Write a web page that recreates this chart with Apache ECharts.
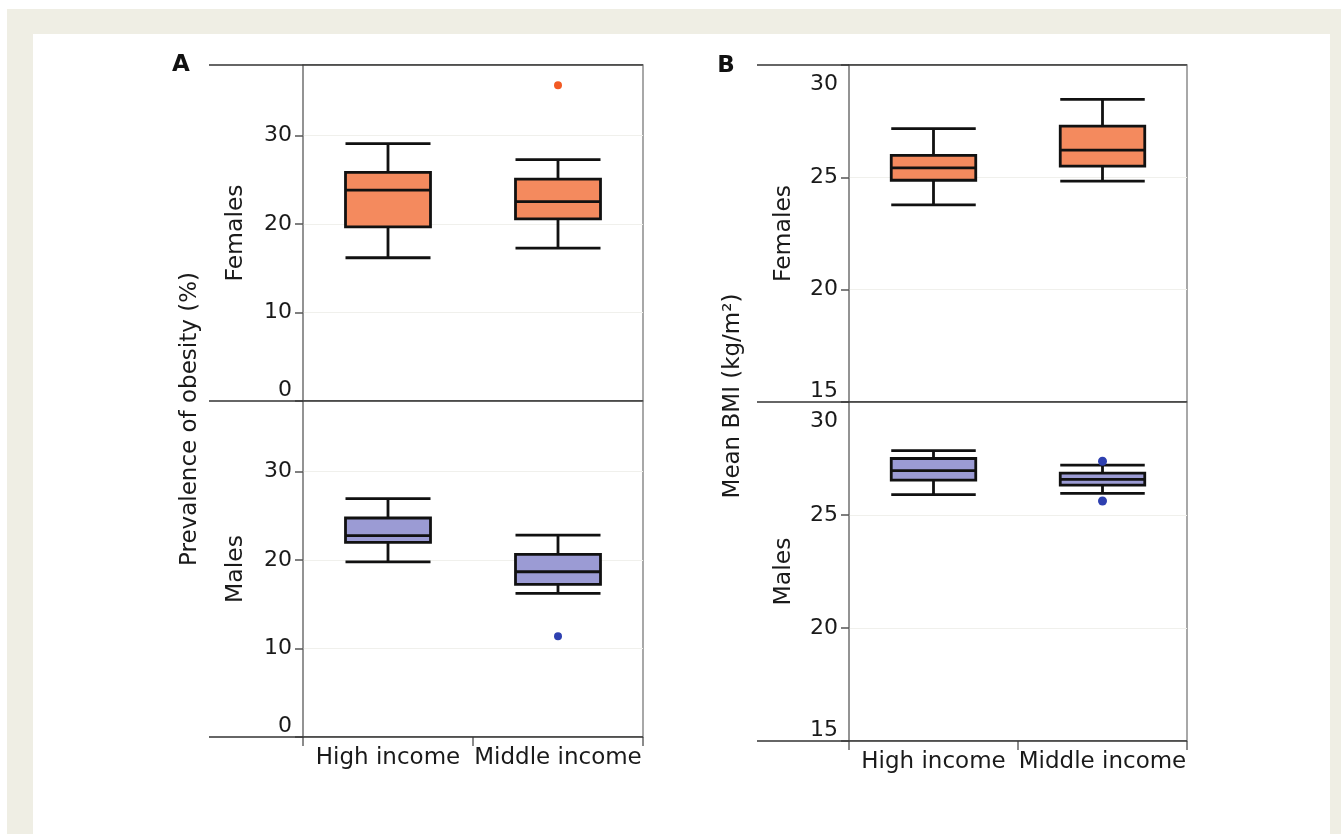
<!DOCTYPE html>
<html><head><meta charset="utf-8">
<script src="https://cdn.jsdelivr.net/npm/echarts@6/dist/echarts.min.js"></script>
<style>
html,body{margin:0;padding:0;width:1341px;height:834px;overflow:hidden;background:#fff;}
#outer{position:absolute;left:7px;top:9px;right:0;bottom:0;background:#efeee4;}
#inner{position:absolute;left:33px;top:34px;width:1297px;bottom:0;background:#fff;}
#chart{position:absolute;left:0;top:0;width:1341px;height:834px;}
</style></head><body>
<div id="outer"></div><div id="inner"></div><div id="chart"></div>
<script>
// ---------- data ----------
const categories = ['High income', 'Middle income'];
// box values: [min, Q1, median, Q3, max]
const obesityFemales = [[16.2, 19.7, 23.85, 25.85, 29.1], [17.3, 20.6, 22.55, 25.1, 27.3]];
const obesityMales   = [[19.8, 22.0, 22.77, 24.77, 26.95], [16.24, 17.26, 18.69, 20.66, 22.84]];
const bmiFemales     = [[23.77, 24.87, 25.42, 25.98, 27.17], [24.83, 25.5, 26.21, 27.28, 28.47]];
const bmiMales       = [[25.9, 26.54, 26.96, 27.5, 27.85], [25.96, 26.32, 26.58, 26.85, 27.21]];
const obesityFemalesOutliers = [['Middle income', 35.7]];
const obesityMalesOutliers   = [['Middle income', 11.4]];
const bmiFemalesOutliers     = [];
const bmiMalesOutliers       = [['Middle income', 27.38], ['Middle income', 25.62]];
const obesityAxis = {min: 0, max: 38, interval: 10};
const bmiAxis = {min: 15, max: 30, interval: 5};
const panelNames = ['Females', 'Males'];
const titleA = 'Prevalence of obesity (%)';
const titleB = 'Mean BMI (kg/m²)';

// ---------- layout ----------
const FONT = '"DejaVu Sans", Verdana, sans-serif';
const ORANGE = '#f48a5e', PURPLE = '#9b9bd4', ORANGE_DOT = '#f25a24', BLUE_DOT = '#2e40b0';
const LAY = {
  A: {left: 303, width: 340, tops: [65, 401], heights: [336, 336], lineStart: 209, nameGap: 55},
  B: {left: 849, width: 338, tops: [65, 402], heights: [337, 339], lineStart: 757, nameGap: 53}
};

const grids = [], xAxes = [], yAxes = [], series = [], graphics = [];
const panels = [
  {key: 'A', axis: obesityAxis, data: [obesityFemales, obesityMales], out: [obesityFemalesOutliers, obesityMalesOutliers], letter: 'A', title: titleA, titleX: 190, titleY: 419},
  {key: 'B', axis: bmiAxis, data: [bmiFemales, bmiMales], out: [bmiFemalesOutliers, bmiMalesOutliers], letter: 'B', title: titleB, titleX: 733, titleY: 396}
];
panels.forEach(p => {
  const lay = LAY[p.key];
  for (let r = 0; r < 2; r++) {
    const gi = grids.length;
    grids.push({left: lay.left, top: lay.tops[r], width: lay.width, height: lay.heights[r],
      show: true, borderColor: '#8c8c8c', borderWidth: 1.5, backgroundColor: 'transparent', outerBoundsMode: 'none'});
    const bottom = r === 1;
    xAxes.push({gridIndex: gi, type: 'category', data: categories, boundaryGap: true,
      axisLine: {show: false},
      axisTick: {show: bottom, length: 9, lineStyle: {color: '#666', width: 1.5}},
      axisLabel: {show: bottom, fontSize: 23, color: '#1a1a1a', margin: 10, fontFamily: FONT, interval: 0},
      splitLine: {show: false}});
    const maxVal = p.axis.max;
    yAxes.push({gridIndex: gi, type: 'value', min: p.axis.min, max: p.axis.max, interval: p.axis.interval,
      axisLine: {show: true, lineStyle: {color: '#8c8c8c', width: 1.5}},
      axisTick: {show: true, length: 8, lineStyle: {color: '#555', width: 1.5}},
      axisLabel: {fontSize: 22, color: '#1a1a1a', margin: 11, fontFamily: FONT,
        showMaxLabel: p.key === 'B', verticalAlignMinLabel: 'bottom', verticalAlignMaxLabel: 'top',
        formatter: v => (v === maxVal ? '{mx|' + v + '}' : String(v)),
        rich: {mx: {fontSize: 22, color: '#1a1a1a', fontFamily: FONT, padding: [8, 0, 0, 0]}}},
      splitLine: {show: true, lineStyle: {color: '#f0f0ec', width: 1}},
      name: panelNames[r], nameLocation: 'middle', nameGap: lay.nameGap,
      nameTextStyle: {fontSize: 23.5, color: '#1a1a1a', fontFamily: FONT}});
    series.push({type: 'boxplot', xAxisIndex: gi, yAxisIndex: gi, data: p.data[r],
      boxWidth: ['50%', '50%'], silent: true,
      itemStyle: {color: r === 0 ? ORANGE : PURPLE, borderColor: '#111', borderWidth: 2.8}});
    series.push({type: 'scatter', xAxisIndex: gi, yAxisIndex: gi, data: p.out[r], silent: true,
      symbolSize: p.key === 'A' ? 8 : 9, itemStyle: {color: r === 0 ? ORANGE_DOT : BLUE_DOT, opacity: 1}, z: 5});
  }
  // frame horizontal lines (top, middle, bottom) extending left of the axis
  const ys = [lay.tops[0], lay.tops[1], lay.tops[1] + lay.heights[1]];
  ys.forEach(y => graphics.push({type: 'line', z: 10, shape: {x1: lay.lineStart, y1: y, x2: lay.left + lay.width, y2: y},
    style: {stroke: '#333', lineWidth: 1.5}}));
  graphics.push({type: 'text', x: p.titleX, y: p.titleY, rotation: Math.PI / 2,
    style: {text: p.title, fontSize: 23, fontFamily: FONT, fill: '#1a1a1a', align: 'center', verticalAlign: 'middle'}});
});
graphics.push({type: 'text', x: 181, y: 65, style: {text: 'A', fontSize: 23, fontWeight: 'bold', fontFamily: FONT, fill: '#111', align: 'center', verticalAlign: 'middle'}});
graphics.push({type: 'text', x: 726, y: 66, style: {text: 'B', fontSize: 23, fontWeight: 'bold', fontFamily: FONT, fill: '#111', align: 'center', verticalAlign: 'middle'}});

const chart = echarts.init(document.getElementById('chart'), null, {renderer: 'canvas'});
chart.setOption({
  animation: false,
  backgroundColor: 'transparent',
  textStyle: {fontFamily: FONT},
  grid: grids, xAxis: xAxes, yAxis: yAxes, series: series, graphic: graphics
});
</script>
</body></html>
